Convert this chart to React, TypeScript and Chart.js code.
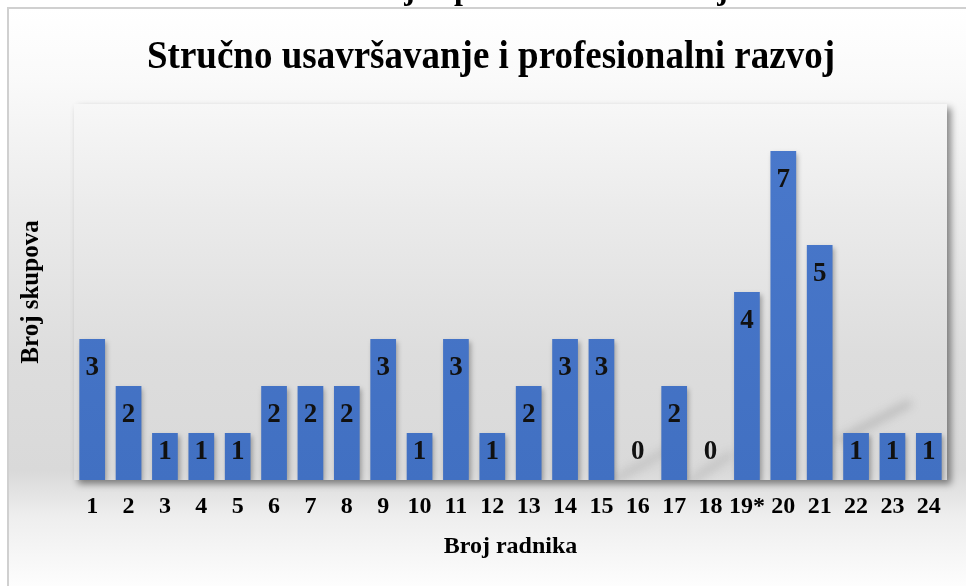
import React, { useEffect, useRef } from "react";
import { Chart, registerables } from "chart.js";

Chart.register(...registerables);

const categories = ["1","2","3","4","5","6","7","8","9","10","11","12","13","14","15","16","17","18","19*","20","21","22","23","24"];
const values = [3,2,1,1,1,2,2,2,3,1,3,1,2,3,3,0,2,0,4,7,5,1,1,1];
const chartTitle = "Stručno usavršavanje i profesionalni razvoj";
const xTitle = "Broj radnika";
const yTitle = "Broj skupova";

const SERIF = "'Liberation Serif', 'Times New Roman', serif";

function bgGradient(ctx: CanvasRenderingContext2D, height: number) {
  const g = ctx.createLinearGradient(0, 8, 0, height);
  g.addColorStop(0, "#ffffff");
  g.addColorStop(0.12, "#fafafa");
  g.addColorStop(0.35, "#ebebeb");
  g.addColorStop(0.6, "#dddddd");
  g.addColorStop(0.8, "#d9d9d9");
  g.addColorStop(0.88, "#eeeeee");
  g.addColorStop(1, "#fdfdfd");
  return g;
}

const backgroundPlugin = {
  id: "bgPlugin",
  beforeDraw(chart: any) {
    const { ctx, width, height, chartArea } = chart;
    ctx.save();
    ctx.fillStyle = "#ffffff";
    ctx.fillRect(0, 0, width, height);
    // cut-off heading above the frame
    ctx.font = `bold 32px ${SERIF}`;
    ctx.fillStyle = "#000000";
    ctx.textAlign = "left";
    ctx.textBaseline = "alphabetic";
    ctx.fillText(chartTitle, 133, -1.5);
    // frame
    ctx.fillStyle = bgGradient(ctx, height);
    ctx.fillRect(9, 9, width, height);
    ctx.strokeStyle = "#d0d0d0";
    ctx.lineWidth = 2;
    ctx.strokeRect(8, 8, width + 10, height + 10);
    // plot panel with shadow
    const { left, right, top, bottom } = chartArea;
    ctx.save();
    ctx.shadowColor = "rgba(0,0,0,0.45)";
    ctx.shadowBlur = 7;
    ctx.shadowOffsetX = 4;
    ctx.shadowOffsetY = 4;
    ctx.fillStyle = bgGradient(ctx, height);
    ctx.fillRect(left, top, right - left, bottom - top);
    ctx.restore();
    // soft diagonal reflections
    ctx.save();
    ctx.beginPath();
    ctx.rect(left, top, right - left, bottom - top);
    ctx.clip();
    ctx.filter = "blur(5px)";
    ctx.strokeStyle = "rgba(120,120,120,0.35)";
    ctx.lineWidth = 7;
    ctx.lineCap = "round";
    ctx.beginPath();
    ctx.moveTo(840, 440);
    ctx.lineTo(908, 404);
    ctx.stroke();
    ctx.strokeStyle = "rgba(120,120,120,0.25)";
    ctx.beginPath();
    ctx.moveTo(615, 480);
    ctx.lineTo(668, 450);
    ctx.stroke();
    ctx.beginPath();
    ctx.moveTo(690, 482);
    ctx.lineTo(730, 455);
    ctx.stroke();
    ctx.restore();
    ctx.restore();
  },
  beforeDatasetsDraw(chart: any) {
    const ctx = chart.ctx;
    ctx.save();
    ctx.shadowColor = "rgba(0,0,0,0.3)";
    ctx.shadowBlur = 5;
    ctx.shadowOffsetX = 2;
    ctx.shadowOffsetY = 3;
  },
  afterDatasetsDraw(chart: any) {
    const ctx = chart.ctx;
    ctx.restore();
    const meta = chart.getDatasetMeta(0);
    const base = chart.scales.y.getPixelForValue(0);
    ctx.save();
    ctx.font = `bold 27px ${SERIF}`;
    ctx.fillStyle = "#111111";
    ctx.textAlign = "center";
    ctx.textBaseline = "middle";
    meta.data.forEach((bar: any, i: number) => {
      const y = Math.min(bar.y + 29, base - 28);
      ctx.fillText(String(values[i]), bar.x, y);
    });
    ctx.restore();
  },
  afterDraw(chart: any) {
    const ctx = chart.ctx;
    ctx.save();
    ctx.font = `bold 37px ${SERIF}`;
    ctx.fillStyle = "#000000";
    ctx.textAlign = "center";
    ctx.textBaseline = "alphabetic";
    ctx.translate(491, 68);
    ctx.scale(1, 1.1);
    ctx.fillText(chartTitle, 0, 0);
    ctx.restore();
  },
};

export default function App() {
  const ref = useRef<HTMLCanvasElement>(null);
  useEffect(() => {
    if (!ref.current) return;
    const chart = new Chart(ref.current, {
      type: "bar",
      data: {
        labels: categories,
        datasets: [
          {
            data: values,
            backgroundColor: (c: any) => {
              const area = c.chart.chartArea;
              if (!area) return "#4472c4";
              const gr = c.chart.ctx.createLinearGradient(0, area.top, 0, area.bottom);
              gr.addColorStop(0, "#4a79cc");
              gr.addColorStop(1, "#4170c2");
              return gr;
            },
            borderWidth: 0,
            categoryPercentage: 1,
            barPercentage: 0.707,
          },
        ],
      },
      options: {
        animation: false,
        responsive: false,
        maintainAspectRatio: false,
        layout: { padding: { left: 8, right: 19, top: 104, bottom: 0 } },
        plugins: {
          legend: { display: false },
          tooltip: { enabled: false },
          title: { display: false },
        },
        scales: {
          x: {
            grid: { display: false, drawTicks: false },
            border: { display: false },
            ticks: {
              color: "#000000",
              font: { family: SERIF, size: 24, weight: "bold" },
              padding: 12.6,
              maxRotation: 0,
              autoSkip: false,
            },
            title: {
              display: true,
              text: xTitle,
              color: "#000000",
              font: { family: SERIF, size: 24, weight: "bold" },
              padding: { top: 0, bottom: 25 },
            },
            afterFit(scale: any) {
              scale.height = 106;
            },
          },
          y: {
            min: 0,
            max: 8,
            grid: { display: false, drawTicks: false },
            border: { display: false },
            ticks: { display: false },
            title: {
              display: true,
              text: yTitle,
              color: "#000000",
              font: { family: SERIF, size: 25, weight: "bold" },
              padding: { top: 9, bottom: 0 },
            },
            afterFit(scale: any) {
              scale.width = 66;
            },
          },
        },
      },
      plugins: [backgroundPlugin],
    } as any);
    return () => chart.destroy();
  }, []);
  return (
    <div style={{ position: "absolute", left: 0, top: 0, width: 966, height: 586 }}>
      <canvas ref={ref} width={966} height={586} style={{ display: "block", width: 966, height: 586 }} />
    </div>
  );
}
